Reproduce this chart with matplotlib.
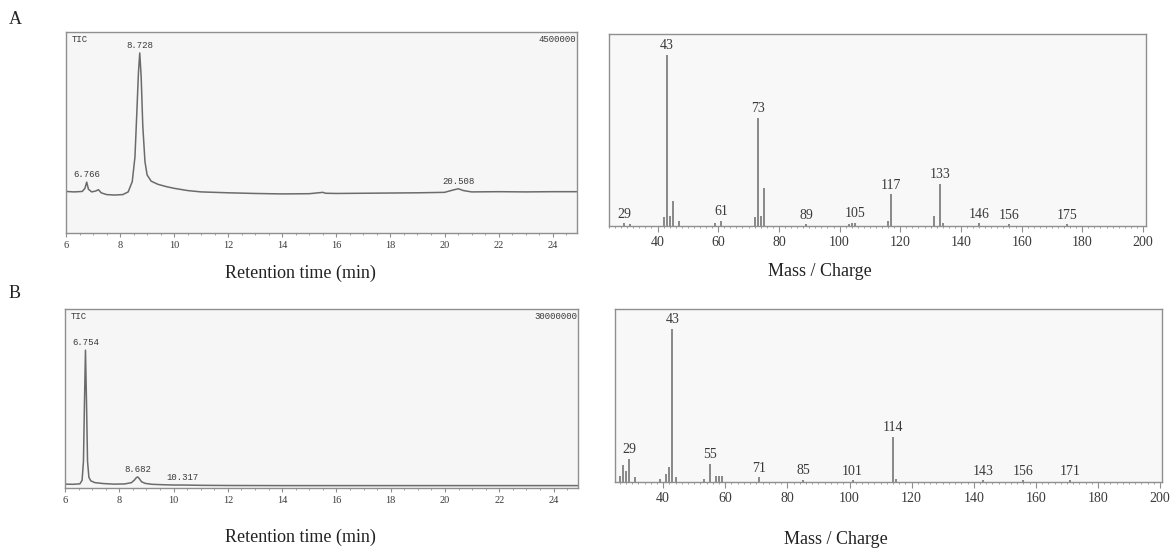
import matplotlib
matplotlib.use("Agg")
import matplotlib.pyplot as plt
from matplotlib.ticker import MultipleLocator

# ---- data ----
# A: chromatogram (retention time in min, TIC counts)
tic_a_time = [6.0, 6.3, 6.6, 6.7, 6.766, 6.83, 6.95, 7.1, 7.2, 7.3, 7.5, 7.8, 8.1, 8.3, 8.45, 8.55,
              8.62, 8.68, 8.728, 8.78, 8.84, 8.92, 9.0, 9.15, 9.4, 9.7, 10.0, 10.5, 11.0, 12.0, 13.0,
              14.0, 15.0, 15.5, 15.6, 16.0, 17.0, 18.0, 19.0, 20.0, 20.3, 20.508, 20.7, 21.0, 22.0,
              23.0, 24.0, 24.9]
tic_a_val = [0.93e6, 0.92e6, 0.93e6, 1.0e6, 1.14e6, 0.98e6, 0.92e6, 0.94e6, 0.97e6, 0.90e6, 0.86e6,
             0.85e6, 0.86e6, 0.92e6, 1.15e6, 1.7e6, 2.7e6, 3.6e6, 4.03e6, 3.5e6, 2.4e6, 1.6e6, 1.3e6,
             1.16e6, 1.09e6, 1.04e6, 1.0e6, 0.95e6, 0.92e6, 0.90e6, 0.885e6, 0.875e6, 0.88e6, 0.91e6,
             0.89e6, 0.885e6, 0.89e6, 0.895e6, 0.9e6, 0.91e6, 0.96e6, 0.99e6, 0.95e6, 0.92e6, 0.925e6,
             0.92e6, 0.925e6, 0.925e6]
tic_a_peaks = [6.766, 8.728, 20.508]
tic_a_peak_val = [1.14e6, 4.03e6, 0.99e6]
tic_a_max = 4500000

# A: mass spectrum (m/z, relative abundance)
ms_a_mz = [29, 31, 42, 43, 44, 45, 47, 59, 61, 72, 73, 74, 75, 89, 103, 104, 105, 116, 117,
           131, 133, 134, 146, 156, 175]
ms_a_int = [1.5, 1.0, 5, 100, 6, 14.5, 3, 2, 3, 5, 63, 6, 22, 1, 1, 1.5, 2, 3, 18.5,
            6, 24.5, 2, 1.5, 1, 1]
ms_a_labels = [29, 43, 61, 73, 89, 105, 117, 133, 146, 156, 175]

# B: chromatogram
tic_b_time = [6.0, 6.3, 6.55, 6.63, 6.68, 6.72, 6.754, 6.79, 6.83, 6.88, 6.95, 7.1, 7.4, 7.8, 8.2,
              8.45, 8.56, 8.63, 8.682, 8.74, 8.82, 8.95, 9.2, 9.6, 10.0, 10.317, 11.0, 12.0, 14.0,
              16.0, 18.0, 20.0, 22.0, 24.0, 24.9]
tic_b_val = [0.65e6, 0.62e6, 0.7e6, 1.3e6, 4.5e6, 15e6, 23.1e6, 15e6, 4.5e6, 1.8e6, 1.2e6, 0.9e6,
             0.75e6, 0.65e6, 0.68e6, 0.9e6, 1.35e6, 1.75e6, 1.85e6, 1.55e6, 1.05e6, 0.78e6, 0.62e6,
             0.55e6, 0.5e6, 0.5e6, 0.45e6, 0.42e6, 0.4e6, 0.4e6, 0.4e6, 0.4e6, 0.4e6, 0.4e6, 0.4e6]
tic_b_peaks = [6.754, 8.682, 10.317]
tic_b_peak_val = [23.1e6, 1.85e6, 0.5e6]
tic_b_max = 30000000

# B: mass spectrum
ms_b_mz = [26, 27, 28, 29, 31, 39, 41, 42, 43, 44, 53, 55, 57, 58, 59, 71, 85, 101, 114, 115,
           143, 156, 171]
ms_b_int = [4, 11, 7, 15, 3, 2, 5, 10, 100, 3, 2, 12, 4, 4, 4, 3, 1.5, 1, 29.5, 2, 1, 1, 1]
ms_b_labels = [29, 43, 55, 71, 85, 101, 114, 143, 156, 171]

line_col = "#6b6b6b"
text_col = "#3a3a3a"
box_col = "#8f8f8f"

fig = plt.figure(figsize=(11.7, 5.53), dpi=100)


def chrom(rect, t, v, peaks, peak_val, ymax, label_y):
    ax = fig.add_axes(rect, facecolor="#f6f6f6")
    ax.plot(t, v, color=line_col, lw=1.1)
    ax.set_xlim(6, 24.9)
    ax.set_ylim(0, ymax)
    ax.set_yticks([])
    ax.xaxis.set_major_locator(MultipleLocator(2))
    ax.xaxis.set_minor_locator(MultipleLocator(0.5))
    ax.tick_params(axis="x", which="major", length=3, color=box_col, labelsize=7.5,
                   labelcolor=text_col, pad=3)
    ax.tick_params(axis="x", which="minor", length=1.5, color=box_col)
    for lab in ax.get_xticklabels():
        lab.set_family("Liberation Serif")
    for s in ax.spines.values():
        s.set_color(box_col)
        s.set_linewidth(1.0)
    for p, pv in zip(peaks, peak_val):
        ax.annotate(f"{p:.3f}", (p, pv), xytext=(0, 2), textcoords="offset points",
                    ha="center", va="bottom", fontsize=6.5, family="Liberation Mono",
                    color=text_col)
    ax.text(0.012, 0.985, "TIC", transform=ax.transAxes, ha="left", va="top",
            fontsize=6.5, family="Liberation Mono", color=text_col)
    ax.text(0.998, 0.985, str(ymax), transform=ax.transAxes, ha="right", va="top",
            fontsize=6.5, family="Liberation Mono", color=text_col)
    fig.text(300 / 1170, 1 - label_y / 553, "Retention time (min)", ha="center", va="center",
             fontsize=13, family="Liberation Serif", color="#222222")
    return ax


def spectrum(rect, mz, inten, labels, xlim, ymax, label_xy):
    ax = fig.add_axes(rect, facecolor="#f8f8f8")
    ax.vlines(mz, 0, inten, color=line_col, lw=1.1)
    ax.set_xlim(*xlim)
    ax.set_ylim(0, ymax)
    ax.set_yticks([])
    ax.xaxis.set_major_locator(MultipleLocator(20))
    ax.xaxis.set_minor_locator(MultipleLocator(2))
    ax.tick_params(axis="x", which="major", length=4, color=box_col, labelsize=10,
                   labelcolor=text_col, pad=3)
    ax.tick_params(axis="x", which="minor", length=1.5, color=box_col)
    for lab in ax.get_xticklabels():
        lab.set_family("Liberation Serif")
    for s in ax.spines.values():
        s.set_color(box_col)
        s.set_linewidth(1.0)
    for m in labels:
        h = inten[mz.index(m)]
        ax.annotate(str(m), (m, h), xytext=(0, 2), textcoords="offset points",
                    ha="center", va="bottom", fontsize=10, family="Liberation Serif",
                    color=text_col)
    fig.text(label_xy[0] / 1170, 1 - label_xy[1] / 553, "Mass / Charge", ha="center",
             va="center", fontsize=13, family="Liberation Serif", color="#222222")
    return ax


chrom([66 / 1170, 1 - 233 / 553, 511 / 1170, 201 / 553], tic_a_time, tic_a_val,
      tic_a_peaks, tic_a_peak_val, tic_a_max, 273)
spectrum([609 / 1170, 1 - 226 / 553, 537 / 1170, 192 / 553], ms_a_mz, ms_a_int,
         ms_a_labels, (24, 201), 112, (820, 272))
chrom([65 / 1170, 1 - 488 / 553, 513 / 1170, 179 / 553], tic_b_time, tic_b_val,
      tic_b_peaks, tic_b_peak_val, tic_b_max, 537)
spectrum([615 / 1170, 1 - 482 / 553, 547 / 1170, 173 / 553], ms_b_mz, ms_b_int,
         ms_b_labels, (24.5, 200.6), 113, (836, 540))

fig.text(15 / 1170, 1 - 20 / 553, "A", ha="center", va="center", fontsize=13,
         family="Liberation Serif", color="#222222")
fig.text(15 / 1170, 1 - 293 / 553, "B", ha="center", va="center", fontsize=13,
         family="Liberation Serif", color="#222222")

fig.savefig("out.png", dpi=100)
